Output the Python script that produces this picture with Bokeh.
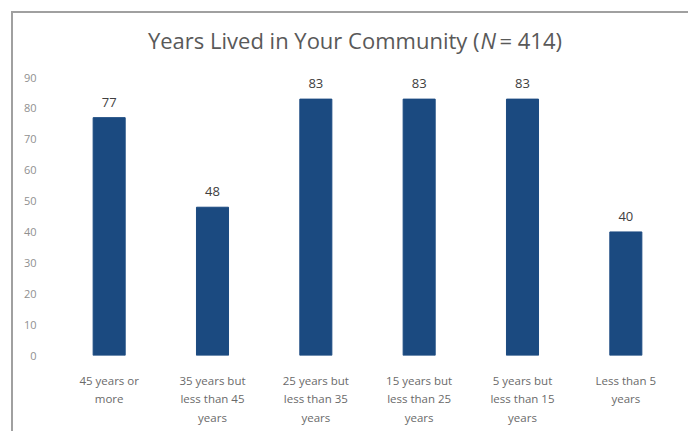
from bokeh.plotting import figure
from bokeh.layouts import column
from bokeh.models import Range1d, FixedTicker, Label, ColumnDataSource
from bokeh.embed import file_html
from bokeh.resources import INLINE

categories = [
    "45 years or\nmore",
    "35 years but\nless than 45\nyears",
    "25 years but\nless than 35\nyears",
    "15 years but\nless than 25\nyears",
    "5 years but\nless than 15\nyears",
    "Less than 5\nyears",
]
counts = [77, 48, 83, 83, 83, 40]
y_ticks = [0, 10, 20, 30, 40, 50, 60, 70, 80, 90]

FONT = "Open Sans"
OX, OY = 13, 13            # content origin inside the page (after border)
W, H = 688 - OX, 432 - OY - 1
FL, FR, FT, FB = 57 - OX, 677 - OX, 16 - OY, 355 - OY  # frame edges

xs = list(range(len(categories)))
src = ColumnDataSource(dict(x=xs, top=counts, lab=[str(c) for c in counts]))

ppu_y = (FB - (77 - OY)) / 90.0
y_end = (FB - FT) / ppu_y

p = figure(width=W, height=H, output_backend="svg", toolbar_location=None,
           x_range=Range1d(-0.5, len(categories) - 0.5), y_range=Range1d(0, y_end),
           min_border_left=FL, min_border_right=W - FR, min_border_top=FT,
           min_border_bottom=H - FB)
p.outline_line_color = None
p.grid.visible = False
p.background_fill_color = "white"
p.border_fill_color = "white"

p.vbar(x="x", top="top", width=0.31, source=src, color="#1b4a80")
p.text(x="x", y="top", text="lab", source=src, text_align="center",
       text_baseline="bottom", y_offset=-11, text_font_size="13px",
       text_color="#404040", text_font={"value": FONT})

# axes
p.yaxis.ticker = FixedTicker(ticks=y_ticks)
p.yaxis.axis_line_color = None
p.yaxis.major_tick_line_color = None
p.yaxis.minor_tick_line_color = None
p.yaxis.major_label_standoff = 15
p.yaxis.major_label_text_font_size = "11px"
p.yaxis.major_label_text_color = "#909090"
p.yaxis.major_label_text_font = FONT

p.xaxis.ticker = FixedTicker(ticks=xs)
p.xaxis.major_label_overrides = {i: c for i, c in zip(xs, categories)}
p.xaxis.axis_line_color = None
p.xaxis.major_tick_line_color = None
p.xaxis.minor_tick_line_color = None
p.xaxis.major_label_standoff = 11
p.xaxis.major_label_text_font_size = "11.5px"
p.xaxis.major_label_text_color = "#6a6a6a"
p.xaxis.major_label_text_font = FONT
p.xaxis.major_label_text_line_height = 1.25

# title in three pieces (N in italics)
ppu_x = (FR - FL) / len(categories)
def px2x(px):
    return (px - OX - FL) / ppu_x - 0.5
ty = (FB - (39 - OY)) / ppu_y
common = dict(y=ty, text_baseline="middle", text_font_size="22px",
              text_color="#595959", text_font=FONT)
p.add_layout(Label(x=px2x(479), text="Years Lived in Your Community (",
                   text_align="right", **common))
p.add_layout(Label(x=px2x(480), text="N", text_align="left",
                   text_font_style="italic", **common))
p.add_layout(Label(x=px2x(499), text="= 414)", text_align="left", **common))

layout = column(p, styles={"margin-left": "11px", "margin-top": "11px",
                           "border-left": "2px solid #a0a0a0",
                           "border-top": "2px solid #a0a0a0"})

open("out.html", "w").write(file_html(layout, INLINE))
